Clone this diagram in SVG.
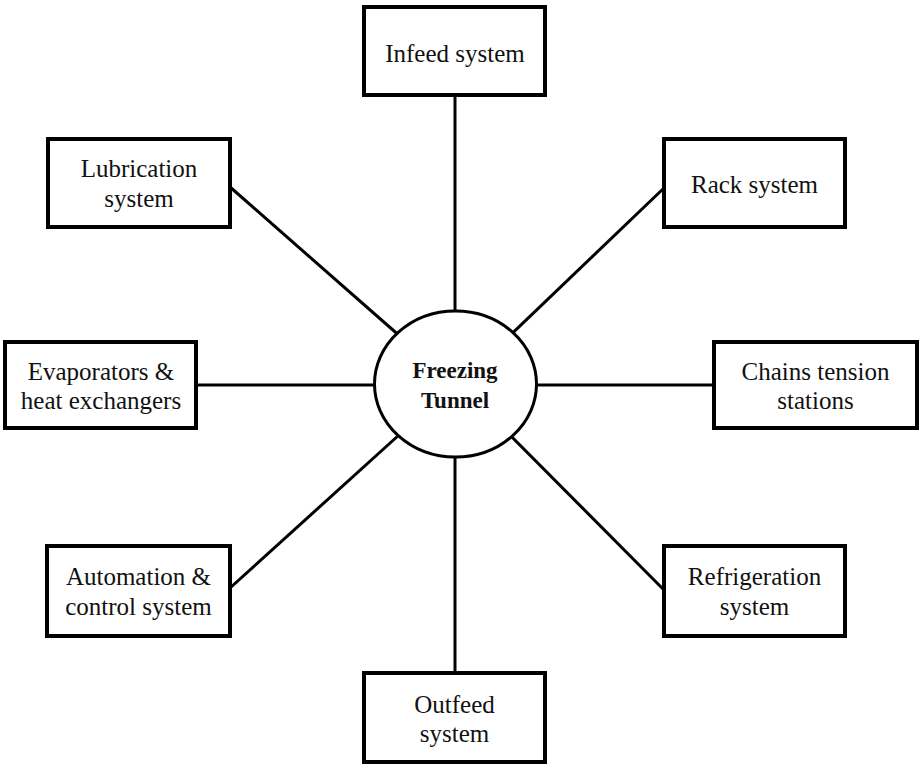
<svg xmlns="http://www.w3.org/2000/svg" width="920" height="766" viewBox="0 0 920 766">
  <style>
    .box { fill: #ffffff; stroke: #000000; stroke-width: 4; }
    .hub { fill: #ffffff; stroke: #000000; stroke-width: 3; }
    .link { stroke: #000000; stroke-width: 3; fill: none; }
    text { font-family: 'Liberation Serif', 'DejaVu Serif', serif; fill: #111111; text-anchor: middle; }
    .label { font-size: 25px; }
    .hub-label { font-size: 23px; font-weight: bold; }
  </style>
  <rect width="920" height="766" fill="#ffffff"/>

  <!-- spokes from the central tunnel to each subsystem -->
  <g id="connectors">
    <line class="link" x1="455" y1="95" x2="455" y2="330"/>
    <line class="link" x1="230" y1="187" x2="410" y2="345"/>
    <line class="link" x1="664" y1="188" x2="500" y2="345"/>
    <line class="link" x1="196" y1="385" x2="390" y2="385"/>
    <line class="link" x1="520" y1="385" x2="714" y2="385"/>
    <line class="link" x1="230" y1="588" x2="410" y2="425"/>
    <line class="link" x1="664" y1="590" x2="500" y2="425"/>
    <line class="link" x1="455" y1="440" x2="455" y2="673"/>
  </g>

  <g id="freezing-tunnel">
    <ellipse class="hub" cx="455.5" cy="384" rx="81" ry="73"/>
    <text class="hub-label" x="455" y="378">Freezing</text>
    <text class="hub-label" x="455" y="408">Tunnel</text>
  </g>

  <g id="infeed-system">
    <rect class="box" x="364" y="7" width="181" height="88"/>
    <text class="label" x="455" y="62">Infeed system</text>
  </g>

  <g id="lubrication-system">
    <rect class="box" x="48" y="139" width="182" height="88"/>
    <text class="label" x="139" y="177">Lubrication</text>
    <text class="label" x="139" y="207">system</text>
  </g>

  <g id="rack-system">
    <rect class="box" x="664" y="139" width="181" height="88"/>
    <text class="label" x="754.5" y="193">Rack system</text>
  </g>

  <g id="evaporators">
    <rect class="box" x="5" y="342" width="191" height="86"/>
    <text class="label" x="101" y="380">Evaporators &amp;</text>
    <text class="label" x="101" y="409">heat exchangers</text>
  </g>

  <g id="chains-tension-stations">
    <rect class="box" x="714" y="342" width="203" height="86"/>
    <text class="label" x="815.5" y="380">Chains tension</text>
    <text class="label" x="815.5" y="409">stations</text>
  </g>

  <g id="automation-control">
    <rect class="box" x="47" y="546" width="183" height="90"/>
    <text class="label" x="138.5" y="585">Automation &amp;</text>
    <text class="label" x="138.5" y="615">control system</text>
  </g>

  <g id="refrigeration-system">
    <rect class="box" x="664" y="546" width="181" height="90"/>
    <text class="label" x="754.5" y="585">Refrigeration</text>
    <text class="label" x="754.5" y="615">system</text>
  </g>

  <g id="outfeed-system">
    <rect class="box" x="364" y="673" width="181" height="89"/>
    <text class="label" x="454.5" y="713">Outfeed</text>
    <text class="label" x="454.5" y="742">system</text>
  </g>
</svg>
